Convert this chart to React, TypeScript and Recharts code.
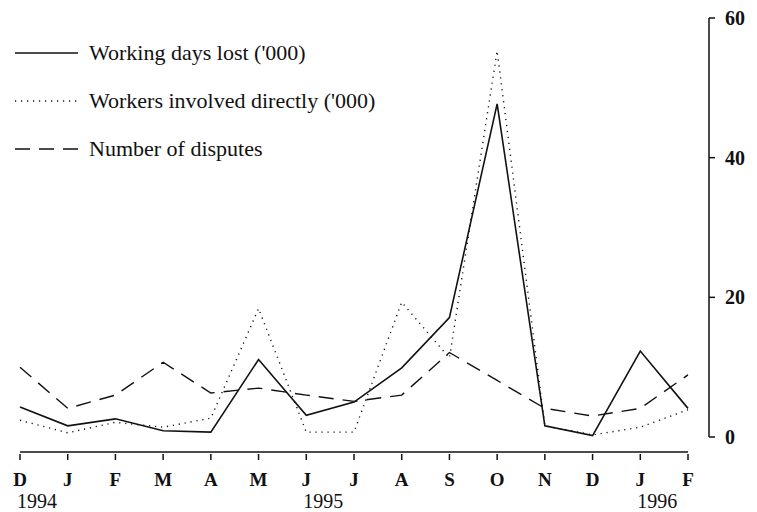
import React from 'react';
import { LineChart, Line, XAxis, YAxis, Legend, ReferenceLine } from 'recharts';

const months = ['Dec94', 'Jan95', 'Feb95', 'Mar95', 'Apr95', 'May95', 'Jun95', 'Jul95', 'Aug95', 'Sep95', 'Oct95', 'Nov95', 'Dec95', 'Jan96', 'Feb96'];
const monthLabels = ['D', 'J', 'F', 'M', 'A', 'M', 'J', 'J', 'A', 'S', 'O', 'N', 'D', 'J', 'F'];
const yearLabels = ['1994', '', '', '', '', '', '1995', '', '', '', '', '', '', '1996', ''];

const workingDaysLost = [4.3, 1.6, 2.6, 0.9, 0.7, 11.1, 3.1, 5.0, 9.9, 17.1, 47.7, 1.6, 0.2, 12.3, 4.1];
const workersInvolved = [2.4, 0.6, 2.1, 1.4, 2.7, 18.4, 0.7, 0.7, 19.3, 11.3, 55.3, 1.6, 0.3, 1.4, 3.9];
const disputes = [10.0, 4.1, 6.0, 10.7, 6.3, 7.0, 6.0, 5.1, 6.0, 12.1, 8.1, 4.1, 3.0, 4.1, 8.9];

const yTicks = [0, 20, 40, 60];

const data = months.map((m, i) => ({
  month: m,
  days: workingDaysLost[i],
  workers: workersInvolved[i],
  disputes: disputes[i],
}));

const INK = '#111';
const SERIF = '"Liberation Serif", "Times New Roman", serif';

// x axis sits a little below the zero line, as in the print
const AXIS_DROP = -15 / 7;

const series = [
  { key: 'days', name: "Working days lost ('000)", dash: undefined as string | undefined },
  { key: 'workers', name: "Workers involved directly ('000)", dash: '1.2 4.8' },
  { key: 'disputes', name: 'Number of disputes', dash: '15 9' },
];

const MonthTick = (props: any) => {
  const { x, y, index } = props;
  return (
    <g>
      <line x1={x} y1={y + 15} x2={x} y2={y + 21} stroke={INK} strokeWidth={1.5} />
      <text x={x} y={y + 47} textAnchor="middle" fontFamily={SERIF} fontSize={19} fontWeight="bold" fill={INK}>
        {monthLabels[index]}
      </text>
      {yearLabels[index] && (
        <text x={x - 3} y={y + 69} textAnchor="start" fontFamily={SERIF} fontSize={20} fill={INK}>
          {yearLabels[index]}
        </text>
      )}
    </g>
  );
};

const renderLegend = () => (
  <div style={{ fontFamily: SERIF, fontSize: 22, color: INK }}>
    {series.map((s) => (
      <div key={s.key} style={{ display: 'flex', alignItems: 'center', height: 48 }}>
        <svg width={66} height={10} style={{ marginRight: 8 }}>
          <line x1={0} y1={5} x2={63} y2={5} stroke={INK} strokeWidth={1.3} strokeDasharray={s.dash} />
        </svg>
        <span>{s.name}</span>
      </div>
    ))}
  </div>
);

export default function App() {
  return (
    <div style={{ position: 'absolute', left: 0, top: 0, background: '#fff' }}>
      <LineChart width={757} height={512} data={data} margin={{ top: 18, right: 0, bottom: 5, left: 20 }}>
        <XAxis
          dataKey="month"
          height={70}
          axisLine={false}
          tickLine={false}
          tickSize={0}
          tick={<MonthTick />}
          interval={0}
          padding={{ left: 0, right: 21 }}
        />
        <YAxis
          orientation="right"
          width={48}
          domain={[0, 60]}
          ticks={yTicks}
          axisLine={{ stroke: INK, strokeWidth: 1.5 }}
          tickLine={{ stroke: INK, strokeWidth: 1.5 }}
          tickSize={6}
          tickMargin={10}
          tick={{ fontFamily: SERIF, fontSize: 20, fontWeight: 'bold', fill: INK }}
        />
        <ReferenceLine
          segment={[{ x: months[0], y: AXIS_DROP }, { x: months[months.length - 1], y: AXIS_DROP }]}
          stroke={INK}
          strokeWidth={1.5}
          ifOverflow="visible"
        />
        <Legend
          layout="vertical"
          align="center"
          verticalAlign="middle"
          wrapperStyle={{ left: 15, top: 29 }}
          content={renderLegend}
        />
        {series.map((s) => (
          <Line
            key={s.key}
            type="linear"
            dataKey={s.key}
            name={s.name}
            stroke={INK}
            strokeWidth={s.key === 'days' ? 1.6 : 1.4}
            strokeDasharray={s.dash}
            dot={false}
            activeDot={false}
            isAnimationActive={false}
          />
        ))}
      </LineChart>
    </div>
  );
}
